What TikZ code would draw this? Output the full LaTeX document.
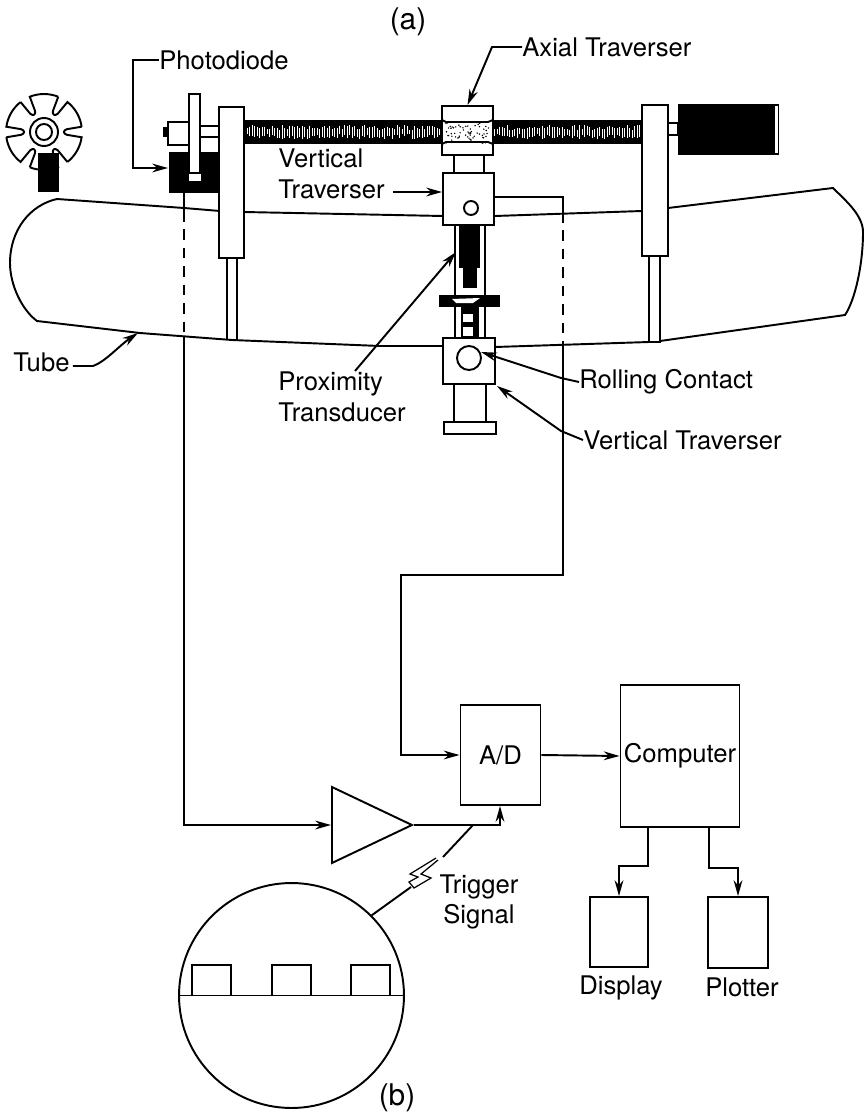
\documentclass[tikz,border=0pt]{standalone}
\usepackage{fontspec}
\setmainfont{TeX Gyre Heros}
\usetikzlibrary{arrows.meta,shapes.geometric}
\tikzset{
  wire/.style={line width=1.1pt},
  lbl/.style={font=\fontsize{14.6}{17.5}\selectfont, inner sep=0pt},
  unit/.style={draw, fill=white, line width=1.1pt, inner sep=0pt},
  gap/.style={line width=1.1pt, dash pattern=on 6pt off 4.5pt}
}
\begin{document}
\begin{tikzpicture}[x=.02cm, y=-.02cm, >={Stealth[length=9pt,width=5pt]}]
\useasboundingbox (0,0) rectangle (863,1115);
% tube
\draw[wire](220,211)--(184,208)--(57,199).. controls (30,205) and (10,230) .. (10,263).. controls (10,285) and (22,310) .. (37,321)--(140,333)--(232,340)--(380,346)--(443,346);
\draw[wire](244,212)--(443,216);
\draw[wire](495,216)--(642,211);
\draw[wire](668,208)--(833,188).. controls (845,200) and (863,215) .. (863,232).. controls (863,265) and (855,300) .. (845,315)--(660,341);
\draw[wire](495,347)--(649,342);
% wheel
\begin{scope}[shift={(44,132)}, x=.02cm, y=.02cm]
\foreach \a in {0,60,...,300}
  \draw[wire](\a+8:38) arc[start angle=\a+8, end angle=\a+52, radius=38]--(\a+53:23).. controls (\a+55:19) and (\a+65:19) .. (\a+67:23)--(\a+68:38);
\draw[wire](0,0)circle(14);
\draw[wire](0,0)circle(8);
\end{scope}
\fill(38,153)rectangle(59,192);
% lead screw
\fill(244,120)rectangle(642,144);
\pgfmathsetseed{11}
\foreach \s in {247,249.5,...,640}{
  \pgfmathsetmacro\ya{125+5*rnd}
  \pgfmathsetmacro\yb{139-5*rnd}
  \draw[white, line width=.55pt](\s,\ya)--(\s,\yb);
}
% photodiode and disk
\fill(169,152)rectangle(220,193);
\draw[unit](168,122)rectangle(189,145);
\fill(163,127)rectangle(168,137);
\draw[unit](200,126)rectangle(220,137);
\draw[unit](188,173)rectangle(202,182);
\draw[unit](189,94)rectangle(200,173);
% posts
\draw[wire](227,258)--(227,340);
\draw[wire](237,258)--(237,340);
\node[unit, minimum width=.5cm, minimum height=3.02cm](lpost) at (231.5,182.5){};
\draw[wire](649,256)--(649,342)--(660,342)--(660,256);
\node[unit, minimum width=.52cm, minimum height=3.02cm](rpost) at (655,180.5){};
\draw[unit](668,123)rectangle(678,135);
\fill(678,104)rectangle(779,155);
\fill[white](775,106)rectangle(778,153);
% carriage
\draw[wire](454,155)--(454,173);
\draw[wire](484,155)--(484,173);
\node[unit, minimum width=1.02cm, minimum height=.98cm](axial) at (467.5,130.5){};
\foreach \s in {1,...,70}{
  \pgfmathsetmacro\xa{446+43*rnd}
  \pgfmathsetmacro\ya{122+21*rnd}
  \fill(\xa,\ya)circle(.8);
}
\draw[wire](442,120)--(446,122)--(488,122)--(493,120);
\draw[wire](442,144)--(446,142)--(488,142)--(493,144);
\node[unit, minimum width=1.02cm, minimum height=1.04cm](vtop) at (468.5,199){};
\draw[wire](471,208)circle(7);
\draw[wire](455,225)--(455,295);
\draw[wire](485,225)--(485,295);
\fill(459,225)rectangle(480,268);
\fill(463,268)rectangle(477,288);
\fill(439,295)rectangle(500,307);
\fill[white](452,299)--(480,298)--(473,303)--(456,303)--cycle;
\draw[wire](455,307)--(455,338);
\draw[wire](485,307)--(485,338);
\fill(461,307)rectangle(479,338);
\fill[white](463,314)rectangle(473,322);
\fill[white](463,327)rectangle(473,336);
\draw[wire](454,384)--(454,422);
\draw[wire](486,384)--(486,422);
\node[unit, minimum width=1.04cm, minimum height=.92cm](vlow) at (469,361){};
\node[unit, circle, minimum size=.48cm](roller) at (469,358){};
\draw[unit](444,422)rectangle(496,434);
% labels on top
\node[lbl, font=\fontsize{17}{19}\selectfont](figa) at (408,22){(a)};
\node[lbl, anchor=west](photo) at (159,60){Photodiode};
\node[lbl, anchor=west](axlab) at (522,47){Axial Traverser};
\node[lbl, anchor=west, align=left](vtlab) at (278,173.5){Vertical\\Traverser};
\node[lbl, anchor=west](tube) at (13,362){Tube};
\node[lbl, anchor=center, align=left](prox) at (342,397){Proximity\\Transducer};
\node[lbl, anchor=west](roll) at (579,382){Rolling Contact};
\node[lbl, anchor=west](vblab) at (583,440){Vertical Traverser};
\coordinate(pd) at (184,193);
\coordinate(pda) at (184,211);
\coordinate(pdb) at (184,336);
\coordinate(sig) at (494,197);
\coordinate(sga) at (563,197);
\coordinate(sgb) at (563,212);
\coordinate(sgc) at (563,345);
\coordinate(phd) at (168,168);
\draw[wire,->](photo.west)--(133,60)--(133,168)--(phd);
\draw[wire,->](axlab.west)--(492,47)--(axial.north);
\draw[wire,->](393,192)--(vtop.west |- 0,192);
\draw[wire,->](tube.east)++(3,4)--(93,366).. controls (105,362) and (120,345) .. (138,333);
\draw[wire,->](355,371)--(456,252);
\draw[wire,->](roll.west)--(561,378)--(481,352);
\draw[wire,->](vblab.west)--(561,431)--(497,386);
% block diagram
\node[unit, minimum width=1.6cm, minimum height=2cm](adc) at (500.5,755){};
\node[lbl] at (adc){A/D};
\node[unit, minimum width=2.38cm, minimum height=2.84cm](comp) at (680,756){};
\node[lbl] at (comp){Computer};
\node[unit, minimum width=1.16cm, minimum height=1.4cm](disp) at (619,932){};
\node[unit, minimum width=1.2cm, minimum height=1.42cm](plot) at (738,932.5){};
\node[lbl](displab) at (621,988){Display};
\node[lbl](plotlab) at (742,987){Plotter};
\node[unit, isosceles triangle, isosceles triangle stretches, minimum width=1.52cm, minimum height=1.6cm, anchor=lower side](amp) at (331,825){};
\coordinate(tap) at (473,825);
\node[unit, circle, minimum size=4.5cm](wave) at (291.5,995.5){};
\draw[wire](wave.west)--(wave.east);
\foreach \s in {192,272,351}
  \draw[wire](\s,996)--(\s,965)--(\s+39,965)--(\s+39,996);
\node[lbl, align=center](trig) at (479,902){Trigger\\Signal};
\node[lbl, font=\fontsize{17}{19}\selectfont](figb) at (397,1098){(b)};
\draw[wire](pd)--(pda);
\draw[gap](pda)--(pdb);
\draw[wire,->](pdb)|-(amp.lower side);
\draw[wire](sig)--(sga)--(sgb);
\draw[gap](sgb)--(sgc);
\draw[wire,->](sgc)--(563,575)--(401,575)--(401,755)--(adc.west);
\draw[wire,->](adc.east)--(comp.west);
\draw[wire](amp.apex)--(tap);
\draw[wire,->](tap)--(500,825)--(adc.south -| 500,0);
\draw[wire,->]([xshift=-.64cm]comp.south)--++(0,38)-|(disp.north);
\draw[wire,->]([xshift=.58cm]comp.south)--++(0,40)-|(plot.north);
\draw[wire](tap)--(443,857);
\draw[line width=.7pt](438,860)--(421,874)--(431,878)--(414,888)--(409,882)--(418,877)--(410,874)--(436,858);
\draw[wire](411,887)--(wave.45);
\end{tikzpicture}
\end{document}
